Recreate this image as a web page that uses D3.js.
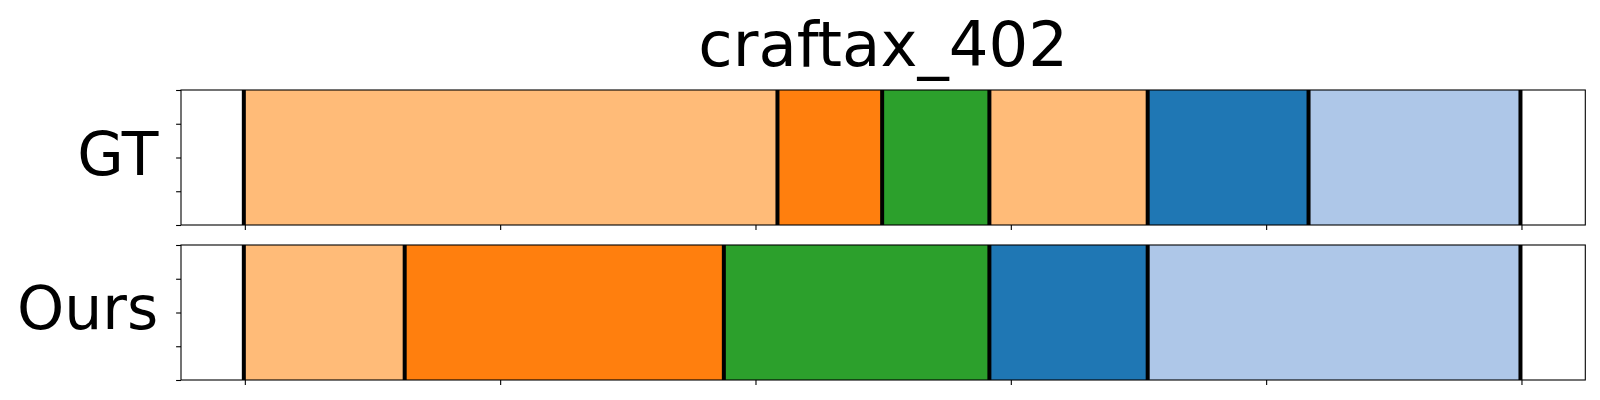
<!DOCTYPE html>
<html>
<head>
<meta charset="utf-8">
<script src="https://cdn.jsdelivr.net/npm/d3@7"></script>
<style>
  html, body { margin: 0; padding: 0; background: #fff; }
  svg { display: block; }
  text { font-family: "DejaVu Sans", sans-serif; fill: #000; }
</style>
</head>
<body>
<svg id="chart" width="1600" height="400"></svg>
<script>
const title = "craftax_402";
const rowLabels = ["GT", "Ours"];
// segment boundaries (frames) and colours per row
const gtBounds = [0, 209, 250, 292, 354, 417, 500];
const gtColors = ["#ffbb78", "#ff7f0e", "#2ca02c", "#ffbb78", "#1f77b4", "#aec7e8"];
const oursBounds = [0, 63, 188, 292, 354, 500];
const oursColors = ["#ffbb78", "#ff7f0e", "#2ca02c", "#1f77b4", "#aec7e8"];
const xTicks = [0, 100, 200, 300, 400, 500];
const yTicks = [0, 0.25, 0.5, 0.75, 1];

const rows = [
  { label: rowLabels[0], bounds: gtBounds, colors: gtColors, top: 90, bottom: 225, labelY: 175 },
  { label: rowLabels[1], bounds: oursBounds, colors: oursColors, top: 245, bottom: 380, labelY: 329 }
];

const svg = d3.select("#chart");
const left = 181, right = 1585.3;
const dataMin = 0, dataMax = 500;
const pad = (dataMax - dataMin) * 0.05;
const x = d3.scaleLinear().domain([dataMin - pad, dataMax + pad]).range([left, right]);

svg.append("text")
  .attr("x", (left + right) / 2)
  .attr("y", 66)
  .attr("text-anchor", "middle")
  .style("font-size", "62.5px")
  .text(title);

rows.forEach(row => {
  const y = d3.scaleLinear().domain([0, 1]).range([row.bottom, row.top]);
  const g = svg.append("g");
  const segs = d3.range(row.bounds.length - 1).map(i => ({
    x0: row.bounds[i], x1: row.bounds[i + 1], c: row.colors[i]
  }));
  g.selectAll("rect.seg").data(segs).enter().append("rect")
    .attr("class", "seg")
    .attr("x", d => x(d.x0))
    .attr("width", d => x(d.x1) - x(d.x0))
    .attr("y", y(1))
    .attr("height", y(0) - y(1))
    .attr("fill", d => d.c);
  g.selectAll("line.bnd").data(row.bounds).enter().append("line")
    .attr("class", "bnd")
    .attr("x1", d => x(d) - 1).attr("x2", d => x(d) - 1)
    .attr("y1", y(1)).attr("y2", y(0))
    .attr("stroke", "#000").attr("stroke-width", 4);

  // axes
  const xAxis = d3.axisBottom(x).tickValues(xTicks).tickSize(4.9).tickFormat("");
  const gx = g.append("g").attr("transform", `translate(0,${row.bottom})`).call(xAxis);
  gx.select(".domain").remove();
  gx.selectAll(".tick line").attr("stroke", "#000").attr("stroke-width", 1.1);
  const yAxis = d3.axisLeft(y).tickValues(yTicks).tickSize(4.9).tickFormat("");
  const gy = g.append("g").attr("transform", `translate(${left},0)`).call(yAxis);
  gy.select(".domain").remove();
  gy.selectAll(".tick line").attr("stroke", "#000").attr("stroke-width", 1.1);

  g.append("rect")
    .attr("x", left).attr("y", y(1))
    .attr("width", right - left).attr("height", y(0) - y(1))
    .attr("fill", "none").attr("stroke", "#000").attr("stroke-width", 1.1);

  svg.append("text")
    .attr("x", 158.3)
    .attr("y", row.labelY)
    .attr("text-anchor", "end")
    .style("font-size", "60px")
    .text(row.label);
});
</script>
</body>
</html>
